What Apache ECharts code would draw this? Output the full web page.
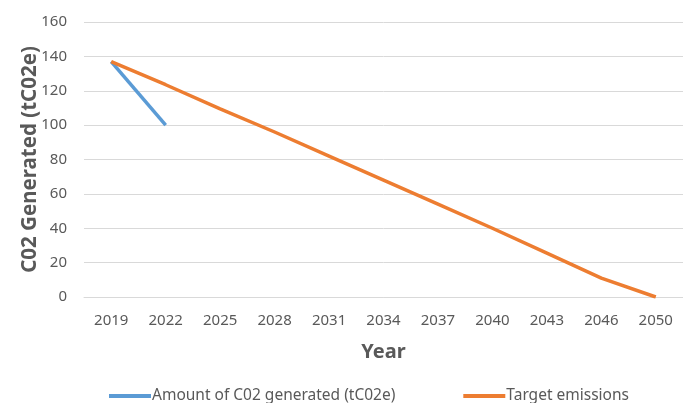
<!DOCTYPE html>
<html>
<head>
<meta charset="utf-8">
<script src="https://cdn.jsdelivr.net/npm/echarts@6/dist/echarts.min.js"></script>
<style>
  html, body { margin: 0; padding: 0; background: #fff; }
  #chart { width: 683px; height: 403px; }
</style>
</head>
<body>
<div id="chart"></div>
<script>
// data
const years = ['2019', '2022', '2025', '2028', '2031', '2034', '2037', '2040', '2043', '2046', '2050'];
const actual = [137, 100];
const target = [137, 123.5, 109.5, 96, 82, 68, 54, 40, 25.5, 11, 0];
const yTicks = [0, 160, 20]; // min, max, step

const font = 'Noto Sans';
const grey = '#595959';

const chart = echarts.init(document.getElementById('chart'));

chart.setOption({
    animation: false,
    textStyle: { fontFamily: font },
    grid: { left: 84, top: 22, width: 606, height: 275 },
    legend: {
        left: 104,
        top: 383,
        itemWidth: 42,
        itemHeight: 4,
        itemGap: 68,
        icon: 'rect',
        textStyle: { color: grey, fontSize: 15.5, fontFamily: font, padding: [0, 0, 0, -4] },
        data: ['Amount of C02 generated (tC02e)', 'Target emissions']
    },
    xAxis: {
        type: 'category',
        data: years,
        boundaryGap: true,
        name: 'Year',
        nameLocation: 'middle',
        nameGap: 45,
        nameMoveOverlap: false,
        nameTextStyle: { color: grey, fontSize: 20, fontWeight: 'bold', fontFamily: font },
        axisLine: { lineStyle: { color: '#d9d9d9' } },
        axisTick: { show: false },
        axisLabel: { color: grey, fontSize: 15, margin: 16 }
    },
    yAxis: {
        type: 'value',
        min: yTicks[0],
        max: yTicks[1],
        interval: yTicks[2],
        name: 'C02 Generated (tC02e)',
        nameLocation: 'middle',
        nameGap: 43,
        nameMoveOverlap: false,
        nameTextStyle: { color: grey, fontSize: 20.5, fontWeight: 'bold', fontFamily: font },
        axisLine: { show: false },
        axisTick: { show: false },
        axisLabel: { color: grey, fontSize: 15, margin: 17 },
        splitLine: { lineStyle: { color: '#d9d9d9', width: 1 } }
    },
    series: [
        {
            name: 'Amount of C02 generated (tC02e)',
            type: 'line',
            data: actual,
            showSymbol: false,
            symbol: 'none',
            lineStyle: { color: '#5B9BD5', width: 3.5 },
            itemStyle: { color: '#5B9BD5' }
        },
        {
            name: 'Target emissions',
            type: 'line',
            data: target,
            showSymbol: false,
            symbol: 'none',
            lineStyle: { color: '#ED7D31', width: 3.5 },
            itemStyle: { color: '#ED7D31' }
        }
    ]
});
</script>
</body>
</html>
